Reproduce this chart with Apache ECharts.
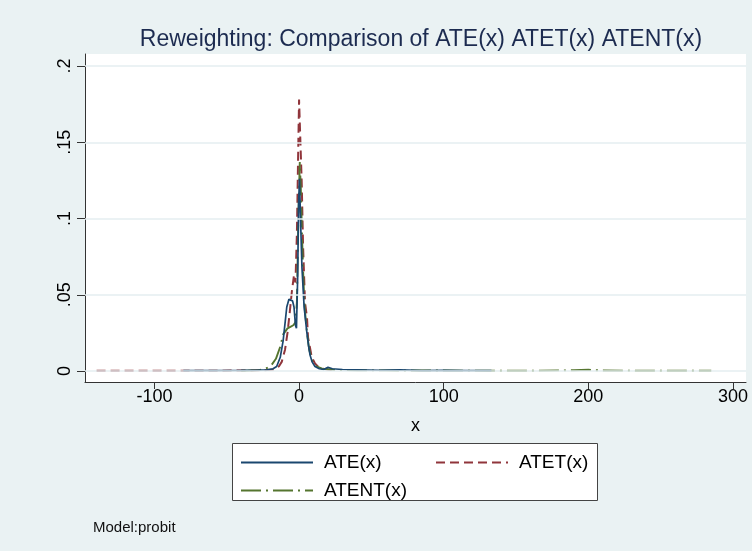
<!DOCTYPE html>
<html>
<head>
<meta charset="utf-8">
<script src="https://cdn.jsdelivr.net/npm/echarts@6/dist/echarts.min.js"></script>
<style>html,body{margin:0;padding:0;background:#EAF2F3;}#c{width:752px;height:551px;}</style>
</head>
<body>
<div id="c"></div>
<script>
// ---- data ----
var xTicks = [-100, 0, 100, 200, 300];
var yTicks = [0, 0.05, 0.1, 0.15, 0.2];

var ateX = [-80, -60, -40, -30, -22, -18, -15.5, -13, -11, -9.5, -8.5, -7, -5.7, -4.5, -3.5, -2.5, -1.8, -1, -0.3, 0.3, 1, 2, 3.5, 5.3, 6.5, 7.6, 9, 11, 14, 17, 20, 23, 30, 40, 55, 70, 85, 100, 115, 133];
var ateY = [0.0003, 0.0003, 0.0004, 0.0005, 0.0008, 0.0015, 0.003, 0.009, 0.02, 0.033, 0.042, 0.047, 0.048, 0.046, 0.042, 0.03, 0.028, 0.06, 0.11, 0.126, 0.10, 0.068, 0.042, 0.026, 0.017, 0.0105, 0.006, 0.003, 0.0015, 0.001, 0.0025, 0.0015, 0.001, 0.0008, 0.0005, 0.0007, 0.0003, 0.0004, 0.0002, 0.0002];

var atetX = [-140, -120, -100, -80, -60, -40, -25, -18, -14, -12, -9.7, -8, -6.5, -5, -3.5, -2.5, -1.5, -0.5, 0, 0.6, 1.8, 2.8, 4.1, 5.5, 6.2, 8.8, 11, 13, 16, 20, 25];
var atetY = [0.0002, 0.0002, 0.0002, 0.0002, 0.0002, 0.0003, 0.0005, 0.001, 0.003, 0.006, 0.014, 0.025, 0.038, 0.052, 0.063, 0.058, 0.09, 0.15, 0.178, 0.16, 0.125, 0.081, 0.045, 0.035, 0.022, 0.009, 0.005, 0.003, 0.0015, 0.001, 0.0008];

var atentX = [-40, -35, -28, -25, -22, -19, -16, -13, -11, -8, -6, -4, -2.5, -1.5, -0.5, 0.5, 1.2, 2, 3, 4, 5.5, 7, 9, 12, 16, 25, 40, 60, 80, 100, 130, 160, 190, 200, 210, 240, 285];
var atentY = [0.0002, 0.0003, 0.0006, 0.001, 0.002, 0.004, 0.008, 0.016, 0.024, 0.028, 0.029, 0.030, 0.032, 0.045, 0.10, 0.137, 0.12, 0.09, 0.06, 0.04, 0.025, 0.014, 0.007, 0.003, 0.0015, 0.0008, 0.0005, 0.0004, 0.0003, 0.0003, 0.0002, 0.0002, 0.0005, 0.0008, 0.0003, 0.0002, 0.0002];

function pairs(xs, ys) { return xs.map(function (x, i) { return [x, ys[i]]; }); }
function yFmt(v) { return v === 0 ? '0' : String(v).replace(/^0/, ''); }

var FONT = 'Liberation Sans, Arial, sans-serif';
var chart = echarts.init(document.getElementById('c'), null, {renderer: 'canvas'});
chart.setOption({
  backgroundColor: '#EAF2F3',
  animation: false,
  title: [
    {text: 'Reweighting: Comparison of ATE(x) ATET(x) ATENT(x)', left: 416, textAlign: 'center', top: 23,
     textStyle: {fontFamily: FONT, fontSize: 23, fontWeight: 'normal', color: '#1c2b50'}},
    {text: 'Model:probit', left: 88, top: 515,
     textStyle: {fontFamily: FONT, fontSize: 15, fontWeight: 'normal', color: '#111'}}
  ],
  grid: {left: 85, right: 6, top: 54, bottom: 169, show: true, backgroundColor: '#ffffff', borderWidth: 0, containLabel: false},
  xAxis: {
    type: 'value', min: -148, max: 309,
    name: 'x', nameLocation: 'middle', nameGap: 35,
    nameTextStyle: {fontFamily: FONT, fontSize: 18, color: '#000'},
    axisLine: {show: true, onZero: false, lineStyle: {color: '#333', width: 1}},
    axisTick: {show: true, length: 7, customValues: xTicks, lineStyle: {color: '#333'}},
    axisLabel: {customValues: xTicks, fontFamily: FONT, fontSize: 18, color: '#000', margin: 6},
    splitLine: {show: false}
  },
  yAxis: {
    type: 'value', min: -0.0072, max: 0.2079,
    axisLine: {show: true, onZero: false, lineStyle: {color: '#333', width: 1}},
    axisTick: {show: true, length: 8, customValues: yTicks, lineStyle: {color: '#333'}},
    axisLabel: {customValues: yTicks, formatter: yFmt, rotate: 90, fontFamily: FONT, fontSize: 18, color: '#000', margin: 11},
    splitLine: {show: false}
  },
  legend: [
    {data: ['ATE(x)', 'ATENT(x)'], orient: 'vertical', left: 240, top: 453, itemWidth: 72, itemHeight: 16, itemGap: 9,
     padding: 0, itemStyle: {opacity: 0}, textStyle: {fontFamily: FONT, fontSize: 19, color: '#000', padding: [0, 0, 0, 6]}},
    {data: ['ATET(x)'], orient: 'vertical', left: 435, top: 453, itemWidth: 72, itemHeight: 16, itemGap: 9,
     padding: 0, itemStyle: {opacity: 0}, textStyle: {fontFamily: FONT, fontSize: 19, color: '#000', padding: [0, 0, 0, 6]}}
  ],
  graphic: [
    {type: 'rect', z: 0, shape: {x: 232.5, y: 443.5, width: 365, height: 57}, style: {fill: '#ffffff', stroke: '#444', lineWidth: 1}}
  ],
  series: [
    {type: 'line', name: 'grid', data: [], z: 1, silent: true,
     markLine: {silent: true, symbol: 'none', label: {show: false}, animation: false,
       lineStyle: {color: '#E5EEF1', width: 1.5, type: 'solid'},
       data: yTicks.map(function (v) { return {yAxis: v}; })}},
    {type: 'line', name: 'ATE(x)', data: pairs(ateX, ateY), symbol: 'none', z: 4,
     lineStyle: {color: '#1a476f', width: 1.7, type: 'solid'}, itemStyle: {color: '#1a476f'}},
    {type: 'line', name: 'ATET(x)', data: pairs(atetX, atetY), symbol: 'none', z: 3,
     lineStyle: {color: '#90353b', width: 2, type: [9, 5]}, itemStyle: {color: '#90353b'}},
    {type: 'line', name: 'ATENT(x)', data: pairs(atentX, atentY), symbol: 'none', z: 3,
     lineStyle: {color: '#55752f', width: 1.9, type: [20, 5, 2, 5]}, itemStyle: {color: '#55752f'}}
  ]
});
</script>
</body>
</html>
